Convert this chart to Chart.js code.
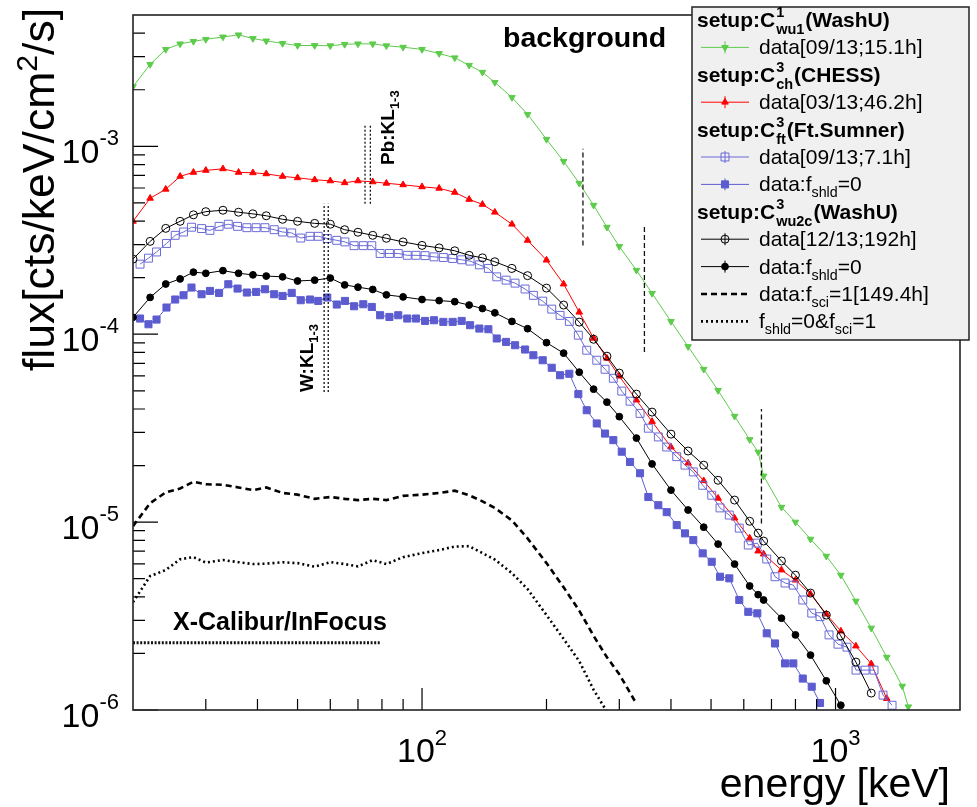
<!DOCTYPE html>
<html>
<head>
<meta charset="utf-8">
<title>background</title>
<script src="https://cdn.jsdelivr.net/npm/chart.js@4.4.1/dist/chart.umd.min.js"></script>
<style>
  html, body { margin: 0; padding: 0; background: #fff; overflow: hidden; }
  canvas { display: block; }
</style>
</head>
<body>
<canvas id="spectrum" width="977" height="807"></canvas>
<script>
/* ── DATA ── */
// shared energy grid [keV] for WashU / CHESS / f_sci spectra
const energies = [20,22,24,26,28,30,33,36,39,42,46,50,55,60,65,70,76,82,90,100,110,120,130,140,150,165,180,200,220,240,260,280,300,330,360,400,440,480,520,570,620,650,670,740,800,870,950,1030,1120,1220,1330,1450,1500];
// bin centres [keV] of the Ft.Sumner spectra
const blueEnergies = [20.8,21.8,22.8,24.1,25.3,26.5,27.7,29.3,30.7,32.3,34.0,35.8,37.7,39.7,41.7,43.9,46.0,48.4,50.9,53.6,56.1,59.0,62.2,65.1,68.5,72.1,75.6,79.2,83.4,87.6,92.1,96.7,101.7,106.9,112.6,118.6,124.7,130.7,137.6,144.7,151.6,159.7,167.9,177.5,185.9,195.8,205.9,215.7,227.1,238.8,250.2,264.6,277.1,290.2,304.1,318.5,336.7,352.6,372.8,390.6,413.0,432.5,453.0,477.3,501.9,525.6,553.5,585.1,615.2,647.0,681.7,714.0,755.0,790.6,833.3,875.9,917.4,964.5,1014,1066,1121,1179,1239,1303,1370];

// setup C1 wu1 (WashU), data 09/13 15.1h
const fluxWashU1 = [2.08e-3,2.73e-3,3.28e-3,3.51e-3,3.62e-3,3.71e-3,3.82e-3,3.92e-3,3.75e-3,3.64e-3,3.53e-3,3.44e-3,3.44e-3,3.43e-3,3.49e-3,3.51e-3,3.51e-3,3.43e-3,3.37e-3,3.28e-3,3.12e-3,2.96e-3,2.70e-3,2.48e-3,2.19e-3,1.82e-3,1.48e-3,1.09e-3,8.32e-4,6.36e-4,4.86e-4,3.71e-4,2.93e-4,2.19e-4,1.65e-4,1.17e-4,8.6e-5,6.51e-5,5.02e-5,3.66e-5,2.75e-5,2.36e-5,1.76e-5,1.20e-5,1.00e-5,8.12e-6,6.59e-6,5.22e-6,3.80e-6,2.73e-6,1.91e-6,1.34e-6,1.04e-6];
// setup C3 ch (CHESS), data 03/13 46.2h
const fluxChess = [3.99e-4,5.29e-4,5.91e-4,6.92e-4,7.27e-4,7.45e-4,7.59e-4,7.27e-4,7.23e-4,7.14e-4,6.92e-4,6.80e-4,6.64e-4,6.55e-4,6.40e-4,6.55e-4,6.47e-4,6.36e-4,6.24e-4,6.09e-4,5.98e-4,5.69e-4,5.22e-4,4.91e-4,4.46e-4,3.85e-4,3.16e-4,2.48e-4,1.85e-4,1.31e-4,9.52e-5,7.45e-5,5.98e-5,4.46e-5,3.43e-5,2.51e-5,2.06e-5,1.66e-5,1.34e-5,1.05e-5,8.22e-6,7.01e-6,6.76e-6,5.56e-6,4.91e-6,4.14e-6,3.24e-6,2.63e-6,2.19e-6,1.76e-6,1.15e-6,null,null];
// setup C3 ft (Ft.Sumner), data 09/13 7.1h
const fluxSumner = [2.36e-4,2.54e-4,2.74e-4,3.04e-4,3.36e-4,3.50e-4,3.71e-4,3.65e-4,3.57e-4,3.75e-4,3.85e-4,3.75e-4,3.69e-4,3.69e-4,3.69e-4,3.60e-4,3.50e-4,3.46e-4,3.25e-4,3.32e-4,3.32e-4,3.23e-4,3.16e-4,3.10e-4,2.96e-4,2.96e-4,2.96e-4,2.69e-4,2.69e-4,2.69e-4,2.63e-4,2.63e-4,2.62e-4,2.58e-4,2.56e-4,2.53e-4,2.49e-4,2.45e-4,2.34e-4,2.24e-4,2.02e-4,1.94e-4,1.87e-4,1.74e-4,1.61e-4,1.50e-4,1.36e-4,1.26e-4,1.17e-4,9.88e-5,8.22e-5,7.27e-5,6.51e-5,5.83e-5,4.98e-5,4.40e-5,3.79e-5,3.16e-5,2.84e-5,2.51e-5,2.23e-5,2.01e-5,1.85e-5,1.57e-5,1.39e-5,1.19e-5,1.09e-5,9.29e-6,7.55e-6,7.73e-6,6.36e-6,5.12e-6,4.74e-6,4.62e-6,3.85e-6,3.28e-6,3.14e-6,2.51e-6,2.24e-6,2.16e-6,1.63e-6,1.63e-6,1.63e-6,1.20e-6,1.06e-6];
// Ft.Sumner, f_shld = 0
const fluxSumnerNoShld = [1.212e-4,1.130e-4,1.197e-4,1.387e-4,1.530e-4,1.612e-4,1.772e-4,1.632e-4,1.700e-4,1.659e-4,1.845e-4,1.750e-4,1.667e-4,1.679e-4,1.735e-4,1.632e-4,1.598e-4,1.659e-4,1.517e-4,1.530e-4,1.504e-4,1.568e-4,1.439e-4,1.504e-4,1.409e-4,1.444e-4,1.397e-4,1.262e-4,1.236e-4,1.262e-4,1.212e-4,1.212e-4,1.177e-4,1.187e-4,1.163e-4,1.163e-4,1.177e-4,1.117e-4,1.072e-4,1.063e-4,9.49e-5,9.10e-5,8.74e-5,8.29e-5,7.73e-5,7.27e-5,6.63e-5,6.05e-5,6.16e-5,4.80e-5,3.94e-5,3.35e-5,2.96e-5,2.73e-5,2.37e-5,2.09e-5,1.82e-5,1.36e-5,1.23e-5,1.13e-5,9.64e-6,8.71e-6,8.02e-6,6.82e-6,6.15e-6,5.12e-6,5.02e-6,3.85e-6,3.33e-6,3.27e-6,2.56e-6,2.26e-6,1.77e-6,1.77e-6,1.47e-6,1.33e-6,1.09e-6,null,null,null,null,null,null,null,null];
// setup C3 wu2c (WashU), data 12/13 192h
const fluxWashU2 = [2.51e-4,3.12e-4,3.66e-4,3.99e-4,4.32e-4,4.49e-4,4.57e-4,4.46e-4,4.37e-4,4.27e-4,4.09e-4,3.99e-4,3.89e-4,3.85e-4,3.60e-4,3.49e-4,3.36e-4,3.24e-4,3.10e-4,2.97e-4,2.88e-4,2.78e-4,2.63e-4,2.55e-4,2.43e-4,2.24e-4,2.05e-4,1.76e-4,1.43e-4,1.16e-4,9.40e-5,7.64e-5,6.21e-5,4.80e-5,3.85e-5,2.94e-5,2.39e-5,2.01e-5,1.67e-5,1.31e-5,1.01e-5,8.74e-6,7.93e-6,6.21e-6,5.22e-6,4.19e-6,3.20e-6,2.48e-6,1.80e-6,1.23e-6,null,null,null];
// WashU wu2c, f_shld = 0
const fluxWashU2NoShld = [1.23e-4,1.57e-4,1.85e-4,1.97e-4,2.14e-4,2.11e-4,2.18e-4,2.11e-4,2.07e-4,2.04e-4,2.02e-4,1.92e-4,1.94e-4,1.99e-4,1.83e-4,1.78e-4,1.73e-4,1.62e-4,1.58e-4,1.53e-4,1.51e-4,1.49e-4,1.43e-4,1.37e-4,1.30e-4,1.17e-4,1.07e-4,9.02e-5,7.93e-5,6.28e-5,5.10e-5,4.35e-5,3.64e-5,2.80e-5,2.04e-5,1.48e-5,1.16e-5,9.40e-6,7.64e-6,5.98e-6,4.57e-6,4.11e-6,3.85e-6,3.08e-6,2.51e-6,1.96e-6,1.43e-6,1.06e-6,null,null,null,null,null];
// f_sci = 1 [149.4h]
const fluxSci = [9.52e-6,1.26e-5,1.44e-5,1.51e-5,1.64e-5,1.59e-5,1.58e-5,1.53e-5,1.48e-5,1.53e-5,1.43e-5,1.40e-5,1.33e-5,1.36e-5,1.33e-5,1.31e-5,1.33e-5,1.31e-5,1.38e-5,1.40e-5,1.43e-5,1.47e-5,1.39e-5,1.29e-5,1.19e-5,1.02e-5,8.19e-6,6.05e-6,4.50e-6,3.38e-6,2.48e-6,1.91e-6,1.55e-6,1.08e-6,null,null,null,null,null,null,null,null,null,null,null,null,null,null,null,null,null,null,null];
// f_shld = 0 & f_sci = 1
const fluxSciNoShld = [3.75e-6,5.16e-6,5.56e-6,6.34e-6,6.51e-6,6.09e-6,6.28e-6,6.12e-6,5.98e-6,6.01e-6,6.11e-6,6.05e-6,5.79e-6,6.12e-6,5.98e-6,5.81e-6,6.28e-6,5.98e-6,6.51e-6,6.84e-6,7.10e-6,7.41e-6,7.45e-6,6.84e-6,6.32e-6,5.35e-6,4.40e-6,3.20e-6,2.39e-6,1.82e-6,1.28e-6,9.8e-7,null,null,null,null,null,null,null,null,null,null,null,null,null,null,null,null,null,null,null,null,null];

// marker lines
const gammaLineE = [245, 345, 662];
const gammaLineTop = [9.7e-4, 3.8e-4, 4.0e-5];
const gammaLineBottom = [2.97e-4, 8.05e-5, 9.84e-6];
const pbKE = [72.8, 75.0];
const pbKRange = [4.95e-4, 1.29e-3];
const wKE = [57.98, 59.32];
const wKRange = [4.93e-5, 4.95e-4];
const xcalE = [20, 79];
const xcalFlux = 2.28e-6;

// axis ticks
const xMajorTicks = [100, 1000];
const xMajorExps = ['2', '3'];
const xMinorTicks = [30,40,50,60,70,80,90,200,300,400,500,600,700,800,900];
const yMajorTicks = [1e-6, 1e-5, 1e-4, 1e-3];
const yMajorExps = ['-6', '-5', '-4', '-3'];
const yMinorTicks = [2e-6,3e-6,4e-6,5e-6,6e-6,7e-6,8e-6,9e-6,2e-5,3e-5,4e-5,5e-5,6e-5,7e-5,8e-5,9e-5,2e-4,3e-4,4e-4,5e-4,6e-4,7e-4,8e-4,9e-4,2e-3,3e-3,4e-3];

/* ── STYLES ── */
const seriesFlux = [fluxWashU1, fluxChess, fluxSumner, fluxSumnerNoShld, fluxWashU2, fluxWashU2NoShld, fluxSci, fluxSciNoShld];
const seriesE = [energies, energies, blueEnergies, blueEnergies, energies, energies, energies, energies];
const seriesStyles = [
  { color: '#5dcb4b', style: 'triangle', rot: 180, r: 3.8, filled: true, width: 1 },
  { color: '#ff0000', style: 'triangle', rot: 0, r: 3.8, filled: true, width: 1 },
  { color: '#6a6ad8', style: 'rect', r: 5.6, filled: false, width: 1 },
  { color: '#5c5cd0', style: 'rect', r: 5.0, filled: true, width: 1 },
  { color: '#000000', style: 'circle', r: 4, filled: false, width: 1 },
  { color: '#000000', style: 'circle', r: 3.4, filled: true, width: 1 },
  { color: '#000000', width: 2.6, dash: [6, 4] },
  { color: '#000000', width: 2.6, dash: [2, 3] }
];
const legendRows = [
  { title: ['setup:C', '1', 'wu1', '(WashU)'] },
  { series: 0, label: [['data[09/13;15.1h]']] },
  { title: ['setup:C', '3', 'ch', '(CHESS)'] },
  { series: 1, label: [['data[03/13;46.2h]']] },
  { title: ['setup:C', '3', 'ft', '(Ft.Sumner)'] },
  { series: 2, label: [['data[09/13;7.1h]']] },
  { series: 3, label: [['data:f'], ['shld', 'sub'], ['=0']] },
  { title: ['setup:C', '3', 'wu2c', '(WashU)'] },
  { series: 4, label: [['data[12/13;192h]']] },
  { series: 5, label: [['data:f'], ['shld', 'sub'], ['=0']] },
  { series: 6, label: [['data:f'], ['sci', 'sub'], ['=1[149.4h]']] },
  { series: 7, label: [['f'], ['shld', 'sub'], ['=0&f'], ['sci', 'sub'], ['=1']] }
];

/* ── TEXT HELPERS ── */
const FONT = '"Liberation Sans", Arial, Helvetica, sans-serif';
const font = (size, bold) => `${bold ? 'bold ' : ''}${size}px ${FONT}`;

function richWidth(ctx, parts, size, bold) {
  let w = 0;
  parts.forEach(([t, k]) => { ctx.font = font(k ? size * 0.68 : size, bold); w += ctx.measureText(t).width; });
  return w;
}
function drawRich(ctx, x, y, parts, size, bold, subDy, supDy) {
  let cx = x;
  parts.forEach(([t, k]) => {
    ctx.font = font(k ? size * 0.68 : size, bold);
    const dy = k === 'sub' ? subDy : k === 'sup' ? -supDy : 0;
    ctx.fillText(t, cx, y + dy);
    cx += ctx.measureText(t).width;
  });
  return cx;
}
function marker(ctx, s, x, y) {
  ctx.beginPath();
  if (s.style === 'circle') ctx.arc(x, y, s.r, 0, 2 * Math.PI);
  else if (s.style === 'rect') { const h = s.r * Math.SQRT1_2; ctx.rect(x - h, y - h, 2 * h, 2 * h); }
  else {
    const a = (s.rot || 0) * Math.PI / 180;
    for (let k = 0; k < 3; k++) {
      const t = a + k * 2 * Math.PI / 3;
      const px = x + Math.sin(t) * s.r, py = y - Math.cos(t) * s.r;
      k ? ctx.lineTo(px, py) : ctx.moveTo(px, py);
    }
    ctx.closePath();
  }
  if (s.filled) { ctx.fillStyle = s.color; ctx.fill(); }
  ctx.strokeStyle = s.color; ctx.lineWidth = 1; ctx.stroke();
}

/* ── FRAME, AXES, LABELS, LEGEND ── */
const decorations = {
  id: 'decorations',
  afterDraw(chart) {
    const { ctx, chartArea: a, scales: { x, y } } = chart;
    ctx.save();
    ctx.fillStyle = '#000';
    ctx.strokeStyle = '#000';

    // inward ticks
    ctx.lineWidth = 1.2;
    ctx.beginPath();
    xMajorTicks.forEach(v => { const p = x.getPixelForValue(v); ctx.moveTo(p, a.bottom); ctx.lineTo(p, a.bottom - 22); });
    xMinorTicks.forEach(v => { const p = x.getPixelForValue(v); ctx.moveTo(p, a.bottom); ctx.lineTo(p, a.bottom - 11); });
    yMajorTicks.forEach(v => { const p = y.getPixelForValue(v); ctx.moveTo(a.left, p); ctx.lineTo(a.left + 25, p); });
    yMinorTicks.forEach(v => { const p = y.getPixelForValue(v); ctx.moveTo(a.left, p); ctx.lineTo(a.left + 12, p); });
    ctx.stroke();

    // frame
    ctx.lineWidth = 1.6;
    ctx.strokeStyle = '#222';
    ctx.strokeRect(a.left, a.top, a.right - a.left, a.bottom - a.top);

    // tick labels
    yMajorTicks.forEach((v, i) => {
      const p = y.getPixelForValue(v);
      ctx.font = font(22); const ws = ctx.measureText(yMajorExps[i]).width;
      ctx.font = font(34); const wb = ctx.measureText('10').width;
      const x0 = 119 - ws - wb;
      ctx.fillText('10', x0, p + 17);
      ctx.font = font(22); ctx.fillText(yMajorExps[i], x0 + wb, p - 1);
    });
    xMajorTicks.forEach((v, i) => {
      const p = x.getPixelForValue(v);
      ctx.font = font(22); const ws = ctx.measureText(xMajorExps[i]).width;
      ctx.font = font(34); const wb = ctx.measureText('10').width;
      const x0 = p - (wb + ws) / 2;
      ctx.fillText('10', x0, 762);
      ctx.font = font(22); ctx.fillText(xMajorExps[i], x0 + wb, 745);
    });

    // axis titles
    const xt = [['energy [keV]']];
    drawRich(ctx, 950 - richWidth(ctx, xt, 41), 797, xt, 41, false, 0, 0);
    const yt = [['flux[cts/keV/cm'], ['2', 'sup'], ['/s]']];
    ctx.save();
    ctx.translate(54, 8);
    ctx.rotate(-Math.PI / 2);
    drawRich(ctx, -richWidth(ctx, yt, 44.5), 0, yt, 44.5, false, 0, 17);
    ctx.restore();

    // annotations
    drawRich(ctx, 503, 47, [['background']], 28.5, true, 0, 0);
    drawRich(ctx, 173, 630, [['X-Calibur/InFocus']], 25, true, 0, 0);
    ctx.save();
    ctx.translate(394, 165);
    ctx.rotate(-Math.PI / 2);
    drawRich(ctx, 0, 0, [['Pb:KL'], ['1-3', 'sub']], 19, true, 5, 0);
    ctx.restore();
    ctx.save();
    ctx.translate(313, 392);
    ctx.rotate(-Math.PI / 2);
    drawRich(ctx, 0, 0, [['W:KL'], ['1-3', 'sub']], 19, true, 5, 0);
    ctx.restore();

    // legend
    const L = { x: 692, y: 7, w: 277, h: 333 };
    ctx.fillStyle = '#f0f0f0';
    ctx.fillRect(L.x, L.y, L.w, L.h);
    ctx.strokeStyle = '#222';
    ctx.lineWidth = 1.5;
    ctx.strokeRect(L.x, L.y, L.w, L.h);
    legendRows.forEach((row, i) => {
      const base = 27 + i * 27.4;
      ctx.fillStyle = '#000';
      if (row.title) {
        const [main, sup, sub, tail] = row.title;
        ctx.font = font(21, true);
        ctx.fillText(main, 697, base);
        let cx = 697 + ctx.measureText(main).width;
        ctx.font = font(14.5, true);
        ctx.fillText(sup, cx + 1, base - 10);
        ctx.fillText(sub, cx + 1, base + 7);
        cx += Math.max(ctx.measureText(sup).width, ctx.measureText(sub).width) + 2;
        ctx.font = font(21, true);
        ctx.fillText(tail, cx, base);
      } else {
        const s = seriesStyles[row.series];
        const ly = base - 7;
        ctx.save();
        ctx.strokeStyle = s.color;
        ctx.lineWidth = s.width;
        ctx.setLineDash(s.dash || []);
        ctx.beginPath(); ctx.moveTo(701, ly); ctx.lineTo(749, ly); ctx.stroke();
        ctx.restore();
        if (s.style) {
          ctx.strokeStyle = s.color; ctx.lineWidth = 1;
          ctx.beginPath(); ctx.moveTo(725, ly - 6); ctx.lineTo(725, ly + 6); ctx.stroke();
          marker(ctx, s, 725, ly);
        }
        ctx.fillStyle = '#000';
        drawRich(ctx, 759, base, row.label, 21, false, 6, 10);
      }
    });
    ctx.restore();
  }
};

/* ── DATASETS ── */
const toPoints = (es, arr) => es.map((e, i) => arr[i] == null ? null : { x: e, y: arr[i] }).filter(Boolean);
const datasets = seriesFlux.map((arr, i) => {
  const s = seriesStyles[i];
  return {
    data: toPoints(seriesE[i], arr),
    showLine: true,
    borderColor: s.color,
    borderWidth: s.width,
    borderDash: s.dash || [],
    pointStyle: s.style || 'circle',
    rotation: s.rot || 0,
    pointRadius: s.style ? s.r : 0,
    pointBorderWidth: 1,
    pointBorderColor: s.color,
    pointBackgroundColor: s.filled ? s.color : 'rgba(0,0,0,0)',
    order: 8 - i
  };
});
const segment = (pts, dash, width) => ({
  data: pts, showLine: true, borderColor: '#111', borderWidth: width,
  borderDash: dash, pointRadius: 0, order: 0
});
gammaLineE.forEach((e, i) => datasets.push(segment([{ x: e, y: gammaLineBottom[i] }, { x: e, y: gammaLineTop[i] }], [5, 3], 1.3)));
pbKE.forEach(e => datasets.push(segment([{ x: e, y: pbKRange[0] }, { x: e, y: pbKRange[1] }], [2, 2], 1.3)));
wKE.forEach(e => datasets.push(segment([{ x: e, y: wKRange[0] }, { x: e, y: wKRange[1] }], [2, 2], 1.3)));
datasets.push(segment([{ x: xcalE[0], y: xcalFlux }, { x: xcalE[1], y: xcalFlux }], [2, 1.6], 3));

new Chart(document.getElementById('spectrum'), {
  type: 'scatter',
  data: { datasets },
  options: {
    responsive: false,
    animation: false,
    devicePixelRatio: 1,
    events: [],
    layout: { padding: { left: 133, right: 17, top: 15, bottom: 97 } },
    plugins: { legend: { display: false }, tooltip: { enabled: false } },
    scales: {
      x: { type: 'logarithmic', min: 20, max: 2000, display: false },
      y: { type: 'logarithmic', min: 1e-6, max: 5e-3, display: false }
    }
  },
  plugins: [decorations]
});
</script>
</body>
</html>
